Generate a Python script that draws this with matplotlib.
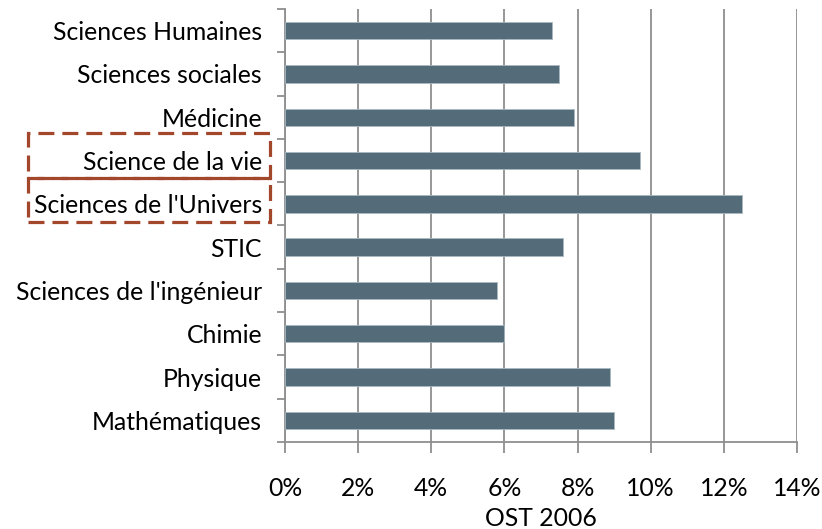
import matplotlib
matplotlib.use("Agg")
import matplotlib.pyplot as plt
from matplotlib.patches import Rectangle
from matplotlib.ticker import FixedLocator, PercentFormatter

categories = ["Mathématiques", "Physique", "Chimie", "Sciences de l'ingénieur", "STIC",
              "Sciences de l'Univers", "Science de la vie", "Médicine",
              "Sciences sociales", "Sciences Humaines"]
values = [9.0, 8.9, 6.0, 5.8, 7.6, 12.5, 9.7, 7.9, 7.5, 7.3]
xticks = [0, 2, 4, 6, 8, 10, 12, 14]
xlabel = "OST 2006"

plt.rcParams['font.family'] = ['Lato', 'DejaVu Sans']
W, H = 822, 529
fs = 17.8
fig = plt.figure(figsize=(W / 100, H / 100), dpi=100)
ax = fig.add_axes([285 / W, 1 - 442 / H, (797 - 285) / W, (442 - 9) / H])

grid_c = "#8f8f8f"
ypos = list(range(len(categories)))
ax.barh(ypos, values, height=0.4, color="#546c79", edgecolor="#a9b8c0", linewidth=0.6, zorder=3)

ax.set_xlim(0, 14)
ax.set_ylim(-0.5, len(categories) - 0.5)
ax.set_xticks(xticks)
ax.xaxis.set_major_formatter(PercentFormatter(decimals=0))
ax.set_yticks(ypos)
ax.set_yticklabels(categories)
ax.yaxis.set_minor_locator(FixedLocator([i - 0.5 for i in range(len(categories) + 1)]))
ax.tick_params(axis='y', which='major', length=0, pad=16.5, labelsize=fs)
ax.tick_params(axis='y', which='minor', length=6, width=1.3, color=grid_c)
ax.tick_params(axis='x', which='major', length=8, width=1.3, color=grid_c, pad=17, labelsize=fs)

ax.grid(axis='x', color=grid_c, linewidth=1.3, zorder=0)
for s in ["top", "right"]:
    ax.spines[s].set_visible(False)
for s in ["left", "bottom"]:
    ax.spines[s].set_color(grid_c)
    ax.spines[s].set_linewidth(1.3)
ax.set_xlabel(xlabel, fontsize=fs, labelpad=5)

box_c = "#a3472c"
for (x0, y0, x1, y1) in [(28, 133, 270, 178), (28, 178, 270, 222)]:
    r = Rectangle((x0 / W, 1 - y1 / H), (x1 - x0) / W, (y1 - y0) / H,
                  transform=fig.transFigure, fill=False, edgecolor=box_c,
                  linewidth=2.3, linestyle=(0, (5, 2.5)), zorder=5)
    fig.patches.append(r)

fig.savefig("out.png", dpi=100)
